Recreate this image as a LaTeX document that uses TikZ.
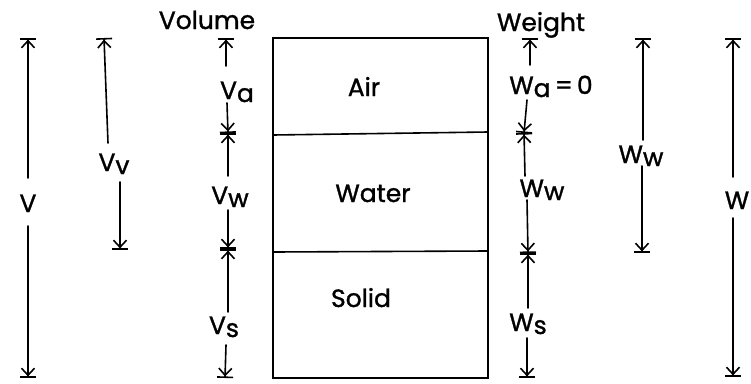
\documentclass[tikz,border=0pt]{standalone}
\usepackage{fontspec}
\setmainfont{Poppins}
\newfontfamily\hand{Poppins}[FakeBold=1.2]
\usetikzlibrary{arrows.meta}
\newcommand\lo[1]{\raisebox{-0.12em}{#1}}
\begin{document}
\begin{tikzpicture}[x=1pt,y=-1pt,
  ln/.style={line width=1.6pt, line cap=round},
  tipE/.style={ln,-{Straight Barb[length=7pt,width=13pt,sep=0pt]Bar[width=16pt]}},
  lbl/.style={font=\hand\fontsize{25}{28}\selectfont, inner sep=0pt, anchor=base}]
\useasboundingbox (0,0) rectangle (751,383);

% soil model box
\draw[ln] (273,38) rectangle (488,378);
\draw[ln] (273,135) -- (488,132);
\draw[ln] (273,252) -- (488,251);
\node[lbl] (air) at (364,96) {Air};
\node[lbl] (water) at (373,202) {Water};
\node[lbl] (solid) at (361,307) {Solid};

% headers
\node[lbl] (volume) at (207,29) {Volume};
\node[lbl] (weight) at (541,31) {Weight};

% volume column
\coordinate (vt) at (226,38);
\coordinate (va1) at (226,66);
\coordinate (va2) at (227,103);
\coordinate (vc1) at (228,133);
\coordinate (vw1) at (228,176);
\coordinate (vw2) at (228,210);
\coordinate (vc2) at (228,249);
\coordinate (vs1) at (228,312);
\coordinate (vs2) at (226,345);
\coordinate (vb) at (225,378);
\node[lbl] (va) at (237,99) {V\lo{a}};
\node[lbl] (vw) at (230,204) {V\lo{w}};
\node[lbl] (vs) at (224,334) {V\lo{s}};
\draw[tipE] (va1) -- (vt);
\draw[tipE] (va2) -- (vc1);
\draw[tipE] (vw1) -- (vc1);
\draw[tipE] (vw2) -- (vc2);
\draw[tipE] (vs1) -- (vc2);
\draw[tipE] (vs2) -- (vb);

% total volume
\coordinate (Vt) at (28,38);
\coordinate (V1) at (28,178);
\coordinate (V2) at (28,226);
\coordinate (Vb) at (28,378);
\node[lbl] (V) at (28,212) {V};
\draw[tipE] (V1) -- (Vt);
\draw[tipE] (V2) -- (Vb);

% volume of voids
\coordinate (vvt) at (104,38);
\coordinate (vv1) at (108,143);
\coordinate (vv2) at (120,182);
\coordinate (vvb) at (120,250);
\node[lbl] (vv) at (114,171) {V\lo{v}};
\draw[tipE] (vv1) -- (vvt);
\draw[tipE] (vv2) -- (vvb);

% weight column
\coordinate (wt) at (530,38);
\coordinate (wa1) at (530,65);
\coordinate (wa2) at (527,100);
\coordinate (wc1) at (524,133);
\coordinate (ww1) at (525,176);
\coordinate (ww2) at (527,200);
\coordinate (wc2) at (528,253);
\coordinate (ws1) at (528,308);
\coordinate (ws2) at (527,338);
\coordinate (wb) at (527,378);
\node[lbl] (wa) at (551,94) {W\lo{a}\,=\,0};
\node[lbl] (ww) at (542,197) {W\lo{w}};
\node[lbl] (ws) at (528,331) {W\lo{s}};
\draw[tipE] (wa1) -- (wt);
\draw[tipE] (wa2) -- (wc1);
\draw[tipE] (ww1) -- (wc1);
\draw[tipE] (ww2) -- (wc2);
\draw[tipE] (ws1) -- (wc2);
\draw[tipE] (ws2) -- (wb);

% weight of water
\coordinate (wwt) at (643,38);
\coordinate (ww3) at (643,140);
\coordinate (ww4) at (642,166);
\coordinate (wwb) at (642,253);
\node[lbl] (wwr) at (641,163) {W\lo{w}};
\draw[tipE] (ww3) -- (wwt);
\draw[tipE] (ww4) -- (wwb);

% total weight
\coordinate (Wt) at (733,38);
\coordinate (W1) at (733,177);
\coordinate (W2) at (733,218);
\coordinate (Wb) at (733,377);
\node[lbl] (W) at (737,209) {W};
\draw[tipE] (W1) -- (Wt);
\draw[tipE] (W2) -- (Wb);
\end{tikzpicture}
\end{document}
